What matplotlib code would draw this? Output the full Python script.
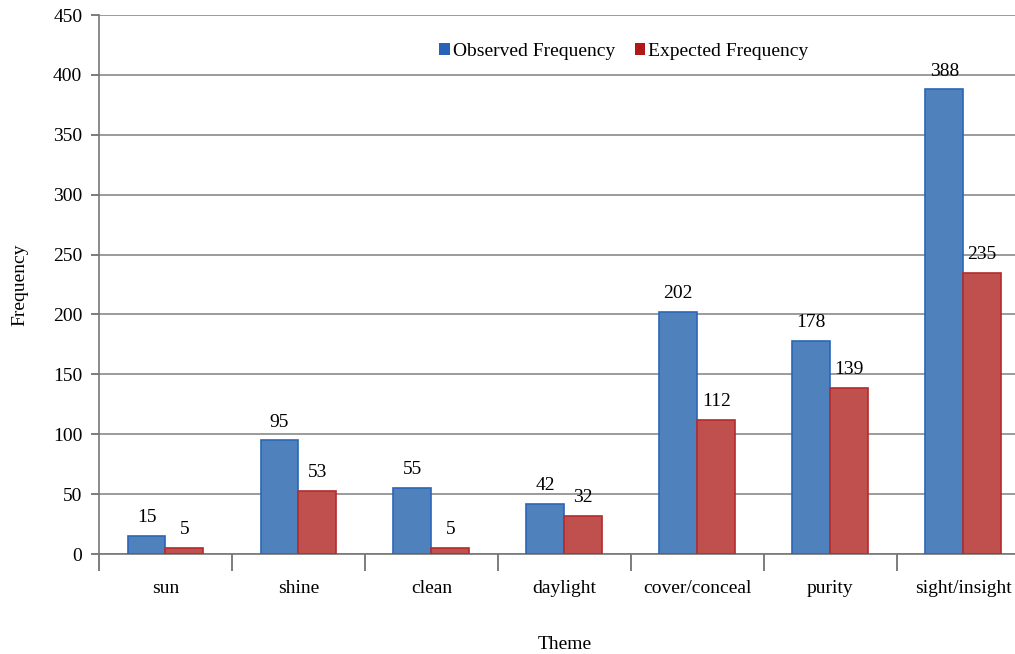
import matplotlib
matplotlib.use("Agg")
import matplotlib.pyplot as plt
from matplotlib.patches import Patch
import numpy as np

categories = ["sun", "shine", "clean", "daylight", "cover/conceal", "purity", "sight/insight"]
observed = [15, 95, 55, 42, 202, 178, 388]
expected = [5, 53, 5, 32, 112, 139, 235]
yticks = [0, 50, 100, 150, 200, 250, 300, 350, 400, 450]

plt.rcParams["font.family"] = ["Liberation Serif", "DejaVu Serif"]
FS = 14

fig = plt.figure(figsize=(10.15, 6.54), dpi=100)
ax = fig.add_axes([0.0975, 0.1529, 0.917, 0.8241])

x = np.arange(len(categories))
w = 0.285
b1 = ax.bar(x - w / 2, observed, w, color="#4F81BD", edgecolor="#2a66b8", linewidth=1.2,
            zorder=3)
b2 = ax.bar(x + w / 2, expected, w, color="#C0504D", edgecolor="#b52b2b", linewidth=1.2,
            zorder=3)

for bars, vals in ((b1, observed), (b2, expected)):
    for r, v in zip(bars, vals):
        ax.annotate(str(v), (r.get_x() + r.get_width() / 2, v), xytext=(0, 7),
                    textcoords="offset points", ha="center", va="bottom", fontsize=FS)

ax.set_xlim(-0.5, len(categories) - 0.5)
ax.set_ylim(0, 450)
ax.set_yticks(yticks)
ax.yaxis.grid(True, color="#8a8a8a", linewidth=1.2, zorder=0)
ax.set_axisbelow(True)

ax.set_xticks(x)
ax.set_xticklabels(categories, fontsize=FS)
ax.set_xticks(np.arange(len(categories) + 1) - 0.5, minor=True)
ax.tick_params(axis="x", which="major", length=0, pad=19)
ax.tick_params(axis="x", which="minor", length=12, width=1.2, color="#666666", direction="out")
ax.tick_params(axis="y", length=6, width=1.2, color="#666666", labelsize=FS, pad=6)

for s in ("top", "right"):
    ax.spines[s].set_visible(False)
for s in ("left", "bottom"):
    ax.spines[s].set_color("#777777")
    ax.spines[s].set_linewidth(1.2)

ax.set_xlabel("Theme", fontsize=FS, labelpad=28)
ax.set_ylabel("Frequency", fontsize=FS, labelpad=18)

handles = [Patch(facecolor="#2a62b8", edgecolor="none", label="Observed Frequency"),
           Patch(facecolor="#b01818", edgecolor="none", label="Expected Frequency")]
ax.legend(handles=handles, loc="center", bbox_to_anchor=(0.564, 0.932), ncol=2, frameon=False,
          fontsize=FS, handlelength=0.55, handleheight=0.55, handletextpad=0.15,
          columnspacing=1.0)

fig.savefig("out.png", dpi=100)
